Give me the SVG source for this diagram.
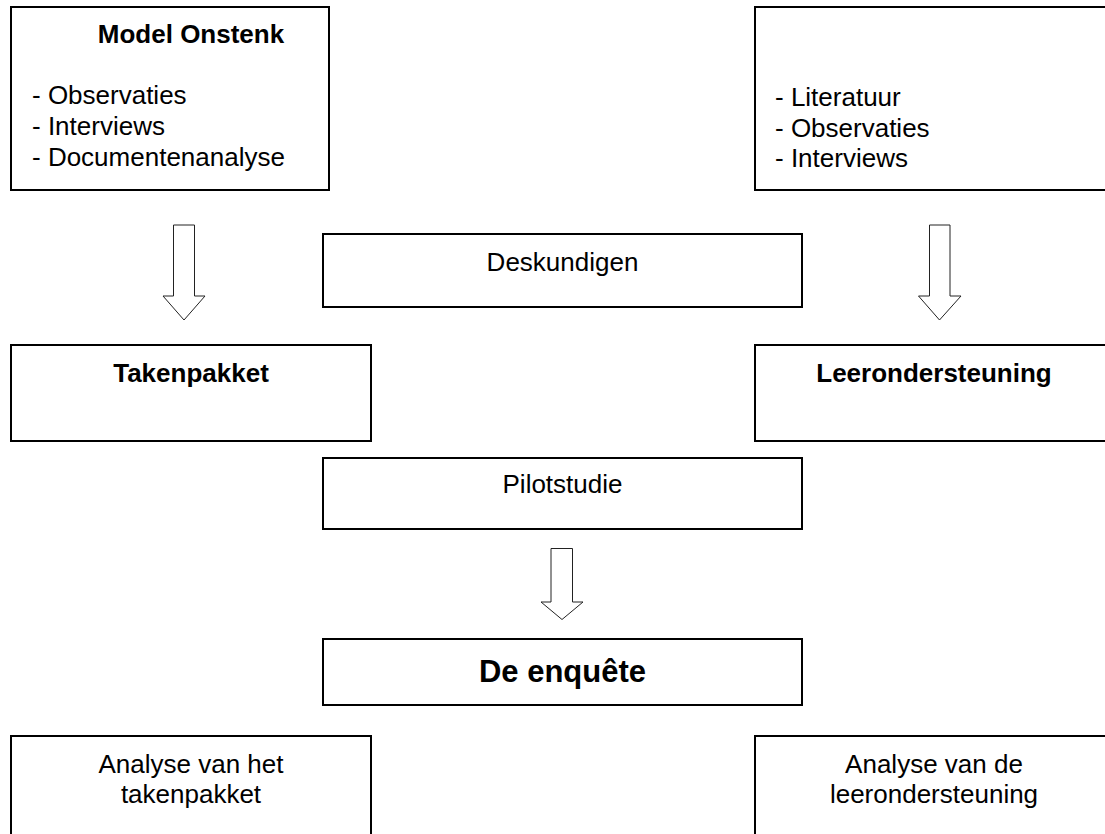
<svg xmlns="http://www.w3.org/2000/svg" width="1105" height="834" viewBox="0 0 1105 834">
<style>
.box{fill:#fff;stroke:#000;stroke-width:2}
.arrow{fill:#fff;stroke:#222;stroke-width:1}
.t{font-family:"Liberation Sans",Arial,sans-serif;font-size:26px;fill:#000}
.b{font-weight:bold}
.c{text-anchor:middle}
</style>
<rect width="1105" height="834" fill="#fff"/>
<g id="connectors">
<polygon class="arrow" points="173.5,225 194.5,225 194.5,296 205,296 184,320 163,296 173.5,296"/>
<polygon class="arrow" points="929.5,225 950,225 950,296 961,296 939.5,320 918.5,296 929.5,296"/>
<polygon class="arrow" points="551,548.5 572.5,548.5 572.5,602 583,602 562,619.5 541,602 551,602"/>
</g>
<g id="model-onstenk">
<rect class="box" x="11" y="7" width="318" height="183"/>
<text class="t b c" x="191" y="43">Model Onstenk</text>
<text class="t" x="32" y="104">- Observaties</text>
<text class="t" x="32" y="135">- Interviews</text>
<text class="t" x="32" y="166">- Documentenanalyse</text>
</g>
<g id="bronnen">
<rect class="box" x="755" y="7" width="360" height="183"/>
<text class="t" x="775" y="106">- Literatuur</text>
<text class="t" x="775" y="137">- Observaties</text>
<text class="t" x="775" y="167">- Interviews</text>
</g>
<g id="deskundigen">
<rect class="box" x="323" y="234" width="479" height="73"/>
<text class="t c" x="562.5" y="271">Deskundigen</text>
</g>
<g id="takenpakket">
<rect class="box" x="11" y="345" width="360" height="96"/>
<text class="t b c" x="191" y="382">Takenpakket</text>
</g>
<g id="leerondersteuning">
<rect class="box" x="755" y="345" width="360" height="96"/>
<text class="t b c" x="934" y="382">Leerondersteuning</text>
</g>
<g id="pilotstudie">
<rect class="box" x="323" y="458" width="479" height="71"/>
<text class="t c" x="562.5" y="493">Pilotstudie</text>
</g>
<g id="enquete">
<rect class="box" x="323" y="639" width="479" height="66"/>
<text class="t b c" x="562.5" y="682" style="font-size:31px">De enquête</text>
</g>
<g id="analyse-takenpakket">
<rect class="box" x="11" y="736" width="360" height="110"/>
<text class="t c" x="191" y="773">Analyse van het</text>
<text class="t c" x="191" y="803">takenpakket</text>
</g>
<g id="analyse-leerondersteuning">
<rect class="box" x="755" y="736" width="360" height="110"/>
<text class="t c" x="934" y="773">Analyse van de</text>
<text class="t c" x="934" y="803">leerondersteuning</text>
</g>
</svg>
